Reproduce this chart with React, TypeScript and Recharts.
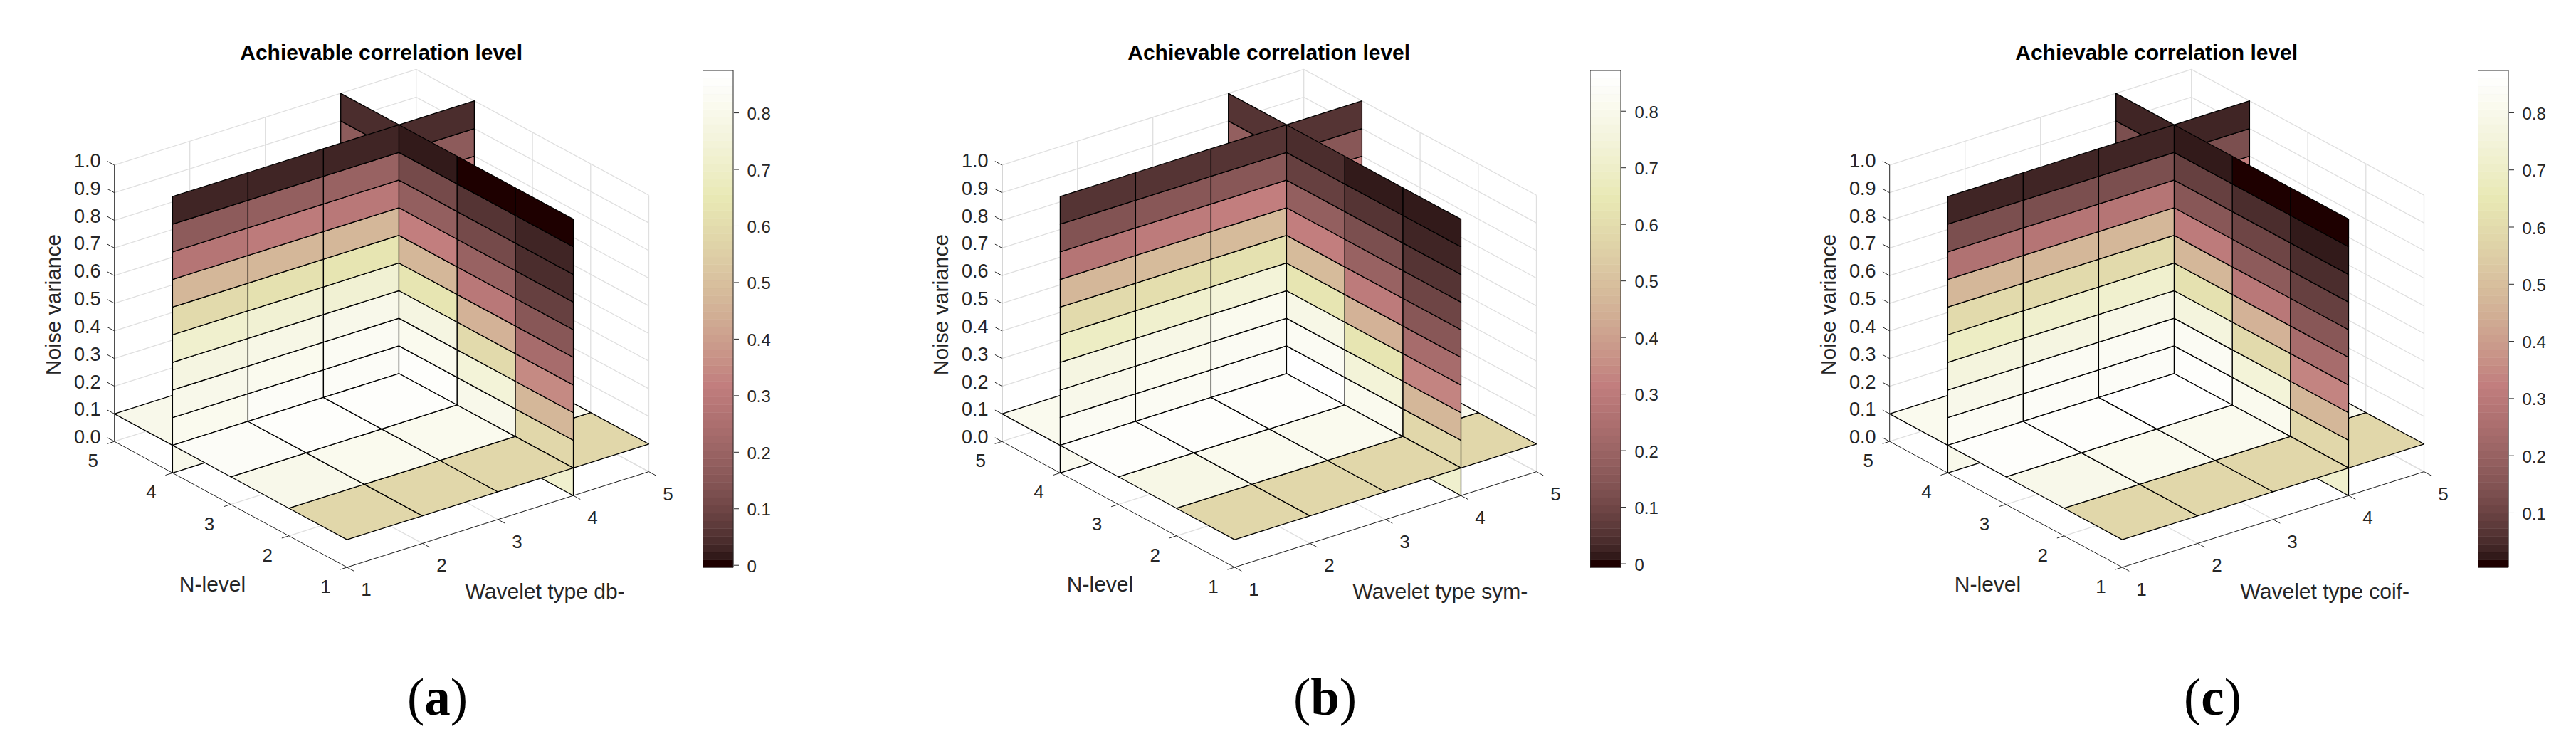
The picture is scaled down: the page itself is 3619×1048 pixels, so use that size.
import React from "react";
import { ScatterChart, Scatter, XAxis, YAxis } from "recharts";

// ---- tick values and labels ----
const waveletTicks = [1, 2, 3, 4, 5];
const levelTicks = [1, 2, 3, 4, 5];
const varianceTicks = [0, 0.1, 0.2, 0.3, 0.4, 0.5, 0.6, 0.7, 0.8, 0.9, 1.0];
const sliceWavelet = 4;
const sliceLevel = 4;
const sliceVariance = 0.1;
const titleText = "Achievable correlation level";
const levelLabel = "N-level";
const varianceLabel = "Noise variance";

// ---- panel (a) db: columns are grid cells along the wall, each listed from variance 0 up to 1 ----
const dbWallLevel4 = [
  [0.81, 0.825, 0.807, 0.777, 0.72, 0.597, 0.47, 0.28, 0.158, 0.027],
  [0.825, 0.851, 0.825, 0.79, 0.739, 0.617, 0.47, 0.3, 0.18, 0.027],
  [0.85, 0.851, 0.84, 0.8, 0.739, 0.638, 0.47, 0.286, 0.19, 0.027],
  [0.85, 0.85, 0.83, 0.8, 0.74, 0.62, 0.47, 0.3, 0.16, 0.031],
];
const dbWallWavelet4 = [
  [0.72, 0.582, 0.47, 0.339, 0.232, 0.148, 0.082, 0.04, 0.027, -0.004],
  [0.78, 0.807, 0.75, 0.6, 0.453, 0.29, 0.19, 0.112, 0.055, -0.004],
  [0.86, 0.858, 0.825, 0.777, 0.64, 0.47, 0.31, 0.172, 0.112, 0.014],
  [0.85, 0.85, 0.83, 0.8, 0.74, 0.62, 0.47, 0.3, 0.17, 0.031],
];
const dbFloor = [
  [0.58, 0.58, 0.58, 0.58],
  [0.8, 0.82, 0.82, 0.82],
  [0.85, 0.858, 0.858, 0.85],
  [0.81, 0.83, 0.83, 0.82],
];

// ---- panel (b) sym ----
const symWallLevel4 = [
  [0.815, 0.83, 0.805, 0.77, 0.69, 0.59, 0.47, 0.275, 0.135, 0.052],
  [0.82, 0.83, 0.815, 0.79, 0.72, 0.61, 0.475, 0.295, 0.145, 0.052],
  [0.84, 0.85, 0.825, 0.81, 0.74, 0.625, 0.485, 0.31, 0.15, 0.052],
  [0.85, 0.85, 0.83, 0.8, 0.74, 0.62, 0.47, 0.32, 0.148, 0.052],
];
const symWallWavelet4 = [
  [0.72, 0.58, 0.47, 0.335, 0.23, 0.148, 0.097, 0.052, 0.025, 0.011],
  [0.8, 0.815, 0.745, 0.64, 0.45, 0.3, 0.187, 0.116, 0.052, 0.011],
  [0.86, 0.872, 0.825, 0.785, 0.64, 0.485, 0.31, 0.172, 0.08, 0.03],
  [0.85, 0.85, 0.83, 0.8, 0.74, 0.62, 0.47, 0.3, 0.168, 0.052],
];
const symFloor = [
  [0.58, 0.58, 0.58, 0.58],
  [0.795, 0.82, 0.82, 0.82],
  [0.855, 0.86, 0.858, 0.85],
  [0.81, 0.83, 0.83, 0.82],
];

// ---- panel (c) coif ----
const coifWallLevel4 = [
  [0.81, 0.83, 0.81, 0.77, 0.7, 0.6, 0.47, 0.27, 0.125, 0.03],
  [0.82, 0.84, 0.83, 0.78, 0.72, 0.6, 0.47, 0.275, 0.125, 0.03],
  [0.85, 0.845, 0.83, 0.795, 0.725, 0.6, 0.475, 0.28, 0.13, 0.03],
  [0.85, 0.85, 0.83, 0.8, 0.74, 0.62, 0.47, 0.32, 0.13, 0.035],
];
const coifWallWavelet4 = [
  [0.72, 0.585, 0.474, 0.34, 0.237, 0.155, 0.09, 0.048, 0.02, 0.0042],
  [0.8, 0.82, 0.745, 0.6, 0.455, 0.29, 0.17, 0.1, 0.05, 0.0042],
  [0.86, 0.86, 0.83, 0.76, 0.625, 0.475, 0.31, 0.16, 0.09, 0.02],
  [0.85, 0.85, 0.83, 0.8, 0.74, 0.62, 0.47, 0.3, 0.13, 0.035],
];
const coifFloor = [
  [0.585, 0.585, 0.585, 0.585],
  [0.8, 0.825, 0.825, 0.825],
  [0.855, 0.86, 0.874, 0.85],
  [0.82, 0.83, 0.83, 0.82],
];

const panelSym = { letter: "b", waveletLabel: "Wavelet type sym-", walls: [symWallLevel4, symWallWavelet4, symFloor], cmin: -0.0067, cmax: 0.872, barTicks: [0, 0.1, 0.2, 0.3, 0.4, 0.5, 0.6, 0.7, 0.8] };
const panelDb = { letter: "a", waveletLabel: "Wavelet type db-", walls: [dbWallLevel4, dbWallWavelet4, dbFloor], cmin: -0.004, cmax: 0.875, barTicks: [0, 0.1, 0.2, 0.3, 0.4, 0.5, 0.6, 0.7, 0.8] };
const panelCoif = { letter: "c", waveletLabel: "Wavelet type coif-", walls: [coifWallLevel4, coifWallWavelet4, coifFloor], cmin: 0.0042, cmax: 0.874, barTicks: [0.1, 0.2, 0.3, 0.4, 0.5, 0.6, 0.7, 0.8] };
const panels = [panelDb, panelSym, panelCoif];

// ---- layout ----
const PANEL_STEP = 1246.85;
const PANEL_W = 1125;
const PAGE_H = 1048;
const BAR_H = 698.4;
const BAR_PAD = 24;
const SANS = "'Liberation Sans', Arial, sans-serif";
const SERIF = "'Liberation Serif', serif";
const TEXT = "#262626";

// orthographic projection of the 3-D box on to the flat chart plane
const proj = (w: number, n: number, z: number) => ({
  x: 487.5 + 106 * (w - 1) - 81.7 * (n - 1),
  y: 797 - 33.6 * (w - 1) - 44.2 * (n - 1) - 388.3 * z,
});

// MATLAB pink(64)
const pinkMap = Array.from({ length: 64 }, (_, i) => {
  const k = i + 1;
  const gray = i / 63;
  const r = Math.min(k / 24, 1);
  const g = k <= 24 ? 0 : Math.min((k - 24) / 24, 1);
  const b = k <= 48 ? 0 : (k - 48) / 16;
  const c = (h: number) => Math.round(255 * Math.sqrt((2 * gray + h) / 3));
  return `rgb(${c(r)},${c(g)},${c(b)})`;
});
const colorOf = (v: number, cmin: number, cmax: number) =>
  pinkMap[Math.max(0, Math.min(63, Math.round(((v - cmin) / (cmax - cmin)) * 63)))];

const zEdges = varianceTicks;

type Cell = { ring: number[][]; value: number; key: number[] };

const side = (c: number, plane: number, farIsGreater: boolean) => {
  if (Math.abs(c - plane) < 1e-9) return 1;
  return c > plane === farIsGreater ? 0 : 2;
};

function buildCells(walls: number[][][]): Cell[] {
  const [wallLevel, wallWavelet, floor] = walls;
  const out: Cell[] = [];
  const push = (ring: number[][], value: number) => {
    const cw = ring.reduce((s, p) => s + p[0], 0) / 4;
    const cn = ring.reduce((s, p) => s + p[1], 0) / 4;
    const cz = ring.reduce((s, p) => s + p[2], 0) / 4;
    out.push({ ring, value, key: [side(cw, sliceWavelet, true), side(cn, sliceLevel, true), side(cz, sliceVariance, false)] });
  };
  wallLevel.forEach((col, i) =>
    col.forEach((v, r) =>
      push(
        [
          [waveletTicks[i], sliceLevel, zEdges[r]],
          [waveletTicks[i + 1], sliceLevel, zEdges[r]],
          [waveletTicks[i + 1], sliceLevel, zEdges[r + 1]],
          [waveletTicks[i], sliceLevel, zEdges[r + 1]],
        ],
        v
      )
    )
  );
  wallWavelet.forEach((col, i) =>
    col.forEach((v, r) =>
      push(
        [
          [sliceWavelet, levelTicks[i], zEdges[r]],
          [sliceWavelet, levelTicks[i + 1], zEdges[r]],
          [sliceWavelet, levelTicks[i + 1], zEdges[r + 1]],
          [sliceWavelet, levelTicks[i], zEdges[r + 1]],
        ],
        v
      )
    )
  );
  floor.forEach((row, j) =>
    row.forEach((v, i) =>
      push(
        [
          [waveletTicks[i], levelTicks[j], sliceVariance],
          [waveletTicks[i + 1], levelTicks[j], sliceVariance],
          [waveletTicks[i + 1], levelTicks[j + 1], sliceVariance],
          [waveletTicks[i], levelTicks[j + 1], sliceVariance],
        ],
        v
      )
    )
  );
  out.sort((a, b) => a.key[0] - b.key[0] || a.key[1] - b.key[1] || a.key[2] - b.key[2]);
  return out;
}

const noMark = () => null;

function TextMark(p: any) {
  const d = p.payload;
  return (
    <text
      x={p.cx}
      y={p.cy}
      textAnchor={d.anchor || "middle"}
      dominantBaseline="central"
      fontFamily={d.family || SANS}
      fontSize={d.size}
      fontWeight={d.bold ? 700 : 400}
      fill={d.color || TEXT}
      transform={d.rotate ? `rotate(${d.rotate} ${p.cx} ${p.cy})` : undefined}
    >
      {d.caption ? (
        <>
          (<tspan fontWeight={700}>{d.caption}</tspan>)
        </>
      ) : (
        d.label
      )}
    </text>
  );
}

const seg = (a: number[], b: number[]) => [proj(a[0], a[1], a[2]), proj(b[0], b[1], b[2])];

function gridLines() {
  const lines: { x: number; y: number }[][] = [];
  varianceTicks.forEach((z) => {
    lines.push([proj(1, 5, z), proj(5, 5, z), proj(5, 1, z)]);
  });
  waveletTicks.slice(1).forEach((w) => {
    lines.push(seg([w, 5, 0], [w, 5, 1]));
    lines.push(seg([w, 1, 0], [w, 5, 0]));
  });
  levelTicks.slice(0, 4).forEach((n) => {
    lines.push(seg([5, n, 0], [5, n, 1]));
    lines.push(seg([1, n, 0], [5, n, 0]));
  });
  return lines;
}

function axisLines() {
  const lines = [seg([1, 5, 0], [1, 5, 1]), seg([1, 1, 0], [1, 5, 0]), seg([1, 1, 0], [5, 1, 0])];
  varianceTicks.forEach((z) => lines.push(seg([1, 5, z], [1, 5.12, z])));
  levelTicks.forEach((n) => lines.push(seg([1, n, 0], [0.906, n, 0])));
  waveletTicks.forEach((w) => lines.push(seg([w, 1, 0], [w, 0.88, 0])));
  return lines;
}

function panelTexts(panel: typeof panelDb) {
  const items: any[] = [];
  items.push({ x: 535.7, y: 73.5, label: titleText, size: 30, bold: true, color: "#000" });
  items.push({ x: 298.5, y: 820.7, label: levelLabel, size: 30 });
  items.push({ x: 653.6, y: 830.8, label: panel.waveletLabel, size: 30, anchor: "start" });
  items.push({ x: 74, y: 428, label: varianceLabel, size: 30, rotate: -90 });
  varianceTicks.forEach((z) => {
    const p = proj(1, 5, z);
    items.push({ x: 141.6, y: p.y - 6, label: z.toFixed(1), size: 27, anchor: "end" });
  });
  levelTicks.forEach((n) => {
    const p = proj(1, n, 0);
    items.push({ x: p.x - 30, y: p.y + 27, label: String(n), size: 26 });
  });
  waveletTicks.forEach((w) => {
    const p = proj(w, 1, 0);
    items.push({ x: p.x + 27, y: p.y + 31, label: String(w), size: 26 });
  });
  items.push({ x: 614.5, y: 979, caption: panel.letter, size: 73, family: SERIF, color: "#000" });
  return items;
}

function Panel({ panel }: { panel: typeof panelDb }) {
  const cells = buildCells(panel.walls);
  return (
    <ScatterChart width={PANEL_W} height={PAGE_H} margin={{ top: 0, right: 0, bottom: 0, left: 0 }}>
      <XAxis type="number" dataKey="x" domain={[0, PANEL_W]} hide />
      <YAxis type="number" dataKey="y" domain={[0, PAGE_H]} reversed hide />
      {gridLines().map((pts, i) => (
        <Scatter key={`g${i}`} data={pts} shape={noMark} isAnimationActive={false} line={{ stroke: "#dfdfdf", strokeWidth: 1.3, fill: "none" }} lineType="joint" lineJointType="linear" />
      ))}
      {axisLines().map((pts, i) => (
        <Scatter key={`a${i}`} data={pts} shape={noMark} isAnimationActive={false} line={{ stroke: TEXT, strokeWidth: 1, fill: "none" }} lineType="joint" lineJointType="linear" />
      ))}
      {cells.map((c, i) => (
        <Scatter
          key={`c${i}`}
          data={c.ring.map((p) => proj(p[0], p[1], p[2]))}
          shape={noMark}
          isAnimationActive={false}
          line={{ stroke: "#000", strokeWidth: 1.3, fill: colorOf(c.value, panel.cmin, panel.cmax), strokeLinejoin: "round" }}
          lineType="joint"
          lineJointType="linearClosed"
        />
      ))}
      <Scatter data={panelTexts(panel)} shape={TextMark} isAnimationActive={false} />
    </ScatterChart>
  );
}

function BarTick(p: any) {
  const { x, y, payload } = p;
  const label = payload.value === 0 ? "0" : Number(payload.value).toFixed(1);
  return (
    <g>
      <line x1={x - 7} x2={x} y1={y} y2={y} stroke={TEXT} strokeWidth={1} />
      <text x={x + 11.5} y={y + 1} dominantBaseline="central" fontFamily={SANS} fontSize={24} fill={TEXT}>
        {label}
      </text>
    </g>
  );
}

function ColorBar({ panel }: { panel: typeof panelDb }) {
  const step = (panel.cmax - panel.cmin) / 64;
  return (
    <ScatterChart width={103} height={BAR_H + BAR_PAD} margin={{ top: 0, right: 0, bottom: BAR_PAD, left: 0 }}>
      <XAxis type="number" dataKey="x" domain={[0, 1]} hide />
      <YAxis
        type="number"
        dataKey="y"
        orientation="right"
        width={60}
        domain={[panel.cmin, panel.cmax]}
        ticks={panel.barTicks}
        interval={0}
        axisLine={false}
        tickLine={false}
        tick={BarTick}
        allowDataOverflow
      />
      {pinkMap.map((color, i) => (
        <Scatter
          key={i}
          data={[
            { x: 0, y: panel.cmin + i * step },
            { x: 1, y: panel.cmin + i * step },
            { x: 1, y: panel.cmin + (i + 1) * step },
            { x: 0, y: panel.cmin + (i + 1) * step },
          ]}
          shape={noMark}
          isAnimationActive={false}
          line={{ stroke: color, strokeWidth: 0.6, fill: color }}
          lineType="joint"
          lineJointType="linearClosed"
        />
      ))}
      <Scatter
        data={[
          { x: 0, y: panel.cmin },
          { x: 1, y: panel.cmin },
          { x: 1, y: panel.cmax },
          { x: 0, y: panel.cmax },
        ]}
        shape={noMark}
        isAnimationActive={false}
        line={{ stroke: TEXT, strokeWidth: 1, fill: "none" }}
        lineType="joint"
        lineJointType="linearClosed"
      />
    </ScatterChart>
  );
}

export default function App() {
  return (
    <div style={{ position: "absolute", left: 0, top: 0, width: 3619, height: PAGE_H, background: "#fff", overflow: "hidden" }}>
      {panels.map((panel, i) => (
        <React.Fragment key={panel.letter}>
          <div style={{ position: "absolute", left: i * PANEL_STEP, top: 0 }}>
            <Panel panel={panel} />
          </div>
          <div style={{ position: "absolute", left: i * PANEL_STEP + 987, top: 99 }}>
            <ColorBar panel={panel} />
          </div>
        </React.Fragment>
      ))}
    </div>
  );
}
